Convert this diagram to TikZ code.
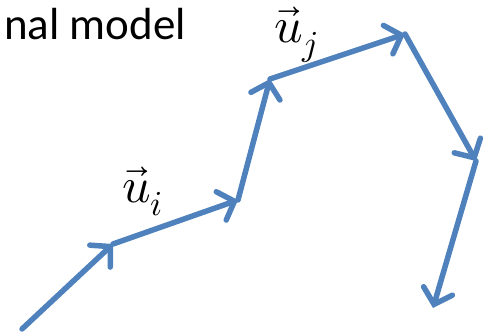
\documentclass[tikz,border=0pt]{standalone}
\usepackage{fontspec}
\setmainfont{Carlito}
\usepackage{unicode-math}
\setmathfont{Latin Modern Math}
\usetikzlibrary{arrows.meta}
\definecolor{pblue}{HTML}{4F81BD}
\begin{document}
\begin{tikzpicture}[x=1pt,y=-1pt,
  vec/.style={draw=pblue,line width=5.5pt,line cap=round,
    -{Straight Barb[length=14pt,width=30pt,line width=5.5pt,line cap=round]}},
  lab/.style={font=\fontsize{50}{56}\selectfont,inner sep=0pt}]
\useasboundingbox (0,0) rectangle (485,336);
\coordinate (p0) at (22,329);
\coordinate (p1) at (113,244);
\coordinate (p2) at (238,200);
\coordinate (p3) at (270,79);
\coordinate (p4) at (405,34);
\coordinate (p5) at (476,161);
\coordinate (p6) at (433,308);
\draw[vec] (p0) -- (p1);
\draw[vec] (p1) -- (p2);
\draw[vec] (p2) -- (p3);
\draw[vec] (p3) -- (p4);
\draw[vec] (p4) -- (p5);
\draw[vec] (p5) -- (p6);
\node[anchor=base east,inner sep=0pt,font=\fontsize{45}{50}\selectfont] (title) at (186,40) {nal model};
\node[lab,anchor=base west] (ui) at (122,203) {$\vec{u}_i$};
\node[lab,anchor=base west] (uj) at (274,43) {$\vec{u}_j$};
\end{tikzpicture}
\end{document}
